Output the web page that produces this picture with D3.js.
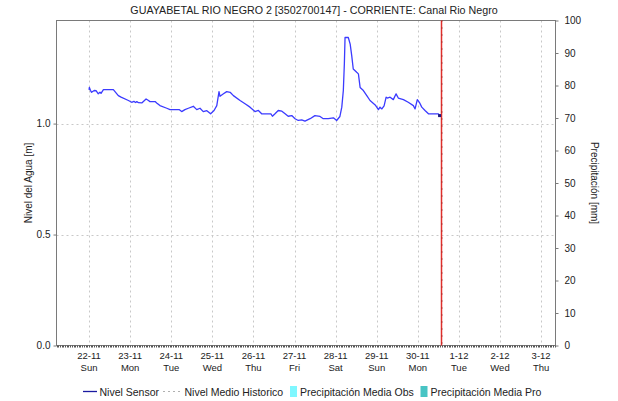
<!DOCTYPE html>
<html>
<head>
<meta charset="utf-8">
<script src="https://cdn.jsdelivr.net/npm/d3@7/dist/d3.min.js"></script>
<style>
  html, body { margin: 0; padding: 0; background: #fff; }
  svg text { font-family: "Liberation Sans", Arial, sans-serif; fill: #222; }
</style>
</head>
<body>
<svg id="chart" width="618" height="401"></svg>
<script>
// Station and series labels
const chartTitle = "GUAYABETAL RIO NEGRO 2 [3502700147] - CORRIENTE: Canal Rio Negro";
const leftAxisTitle = "Nivel del Agua [m]";
const rightAxisTitle = "Precipitación [mm]";
const legendItems = ["Nivel Sensor", "Nivel Medio Historico", "Precipitación Media Obs", "Precipitación Media Pro"];

// Reference date (22-11-2020 00:00) and the time window shown, in hours from it
const baseDate = new Date(2020, 10, 22, 0, 0);
const windowHours = [-19.0, 272.4];
const nowHours = 205.5; // current-time marker

// Water level readings: hours after baseDate, level in metres
const sensorHours = [
  0, 0.2, 0.8, 1.5, 3.0, 4.1, 5.4, 6.4, 7.0, 8.4,
  14.2, 17.1, 18.7, 23.0, 24.9, 26.2, 27.2, 27.9, 28.9, 30.8,
  33.3, 34.5, 35.6, 38.6, 39.5, 41.4, 45.4, 47.3, 52.6, 54.1,
  56.0, 58.0, 60.9, 62.9, 64.8, 66.7, 68.8, 71.0, 73.0, 74.6,
  75.9, 76.5, 78.5, 80.4, 82.4, 84.3, 88.2, 91.1, 94.0, 96.9,
  98.9, 100.8, 106.2, 107.1, 108.6, 110.5, 112.6, 114.5, 116.3, 118.4,
  120.3, 122.2, 124.2, 126.1, 129.1, 131.9, 134.9, 136.8, 139.7, 142.7,
  144.6, 146.5, 147.6, 148.5, 149.1, 149.5, 151.4, 152.5, 153.4, 154.3,
  156.3, 157.3, 158.3, 160.2, 162.2, 164.1, 167.1, 168.0, 169.0, 169.9,
  171.0, 172.3, 173.5, 174.2, 175.8, 177.7, 179.3, 180.6, 183.6, 186.4,
  189.4, 190.4, 191.7, 192.9, 194.3, 196.2, 198.2, 204.0, 204.7
];
const sensorLevel = [
  1.152, 1.163, 1.150, 1.141, 1.149, 1.148, 1.134, 1.141, 1.136, 1.153,
  1.153, 1.126, 1.119, 1.104, 1.096, 1.100, 1.095, 1.099, 1.094, 1.093,
  1.111, 1.105, 1.099, 1.099, 1.093, 1.081, 1.069, 1.063, 1.063, 1.054,
  1.063, 1.069, 1.078, 1.063, 1.069, 1.054, 1.058, 1.044, 1.059, 1.081,
  1.144, 1.123, 1.134, 1.144, 1.141, 1.126, 1.104, 1.089, 1.074, 1.054,
  1.059, 1.044, 1.044, 1.033, 1.044, 1.059, 1.056, 1.044, 1.033, 1.036,
  1.022, 1.014, 1.017, 1.011, 1.022, 1.036, 1.032, 1.022, 1.022, 1.026,
  1.014, 1.032, 1.074, 1.149, 1.270, 1.388, 1.388, 1.358, 1.306, 1.246,
  1.231, 1.224, 1.163, 1.149, 1.126, 1.104, 1.084, 1.074, 1.063, 1.074,
  1.066, 1.080, 1.119, 1.115, 1.119, 1.108, 1.134, 1.115, 1.108, 1.096,
  1.081, 1.066, 1.108, 1.096, 1.074, 1.059, 1.044, 1.044, 1.036
];

// Axis ranges and ticks
const levelMax = 1.4645;
const levelTicks = [0, 0.5, 1.0];
const precipMax = 100;
const precipTicks = [0, 10, 20, 30, 40, 50, 60, 70, 80, 90, 100];

const hoursToDate = h => new Date(baseDate.getTime() + h * 3600e3);
const sensor = sensorHours.map((h, i) => ({ t: hoursToDate(h), v: sensorLevel[i] }));

const plot = { left: 56.5, right: 555.5, top: 20.5, bottom: 345.5 };
const svg = d3.select("#chart");

const x = d3.scaleTime().domain(windowHours.map(hoursToDate)).range([plot.left, plot.right]);
const yL = d3.scaleLinear().domain([0, levelMax]).range([plot.bottom, plot.top]);
const yR = d3.scaleLinear().domain([0, precipMax]).range([plot.bottom, plot.top]);

const dayTicks = d3.timeDay.range(hoursToDate(0), hoursToDate(windowHours[1]));
const gridColor = "#c8c8c8";
const axisColor = "#7a7a7a";

// Grid
const grid = svg.append("g");
grid.selectAll("line.v").data(dayTicks).join("line")
  .attr("x1", d => Math.round(x(d)) + 0.5).attr("x2", d => Math.round(x(d)) + 0.5)
  .attr("y1", plot.top).attr("y2", plot.bottom)
  .attr("stroke", gridColor).attr("stroke-dasharray", "2,3");
grid.selectAll("line.h").data(levelTicks.filter(d => d > 0)).join("line")
  .attr("x1", plot.left).attr("x2", plot.right)
  .attr("y1", d => Math.round(yL(d)) + 0.5).attr("y2", d => Math.round(yL(d)) + 0.5)
  .attr("stroke", gridColor).attr("stroke-dasharray", "2,3");

// Frame
svg.append("rect")
  .attr("x", plot.left).attr("y", plot.top)
  .attr("width", plot.right - plot.left).attr("height", plot.bottom - plot.top)
  .attr("fill", "none").attr("stroke", axisColor);

// Hourly minor ticks along the time axis
const hourTicks = d3.timeHour.every(1).range(...windowHours.map(hoursToDate));
svg.append("g").selectAll("line").data(hourTicks).join("line")
  .attr("x1", d => Math.round(x(d)) + 0.5).attr("x2", d => Math.round(x(d)) + 0.5)
  .attr("y1", plot.bottom).attr("y2", plot.bottom + 2)
  .attr("stroke", "#555");

// Left axis
const leftAxis = svg.append("g").attr("transform", `translate(${plot.left},0)`)
  .call(d3.axisLeft(yL).tickValues(levelTicks).tickFormat(d3.format(".1f")).tickSize(3).tickPadding(3));
leftAxis.select(".domain").remove();
leftAxis.selectAll("line").attr("stroke", axisColor);
leftAxis.selectAll("text").style("font-size", "10px").attr("fill", "#222");

// Right axis
const rightAxis = svg.append("g").attr("transform", `translate(${plot.right},0)`)
  .call(d3.axisRight(yR).tickValues(precipTicks).tickSize(3).tickPadding(6));
rightAxis.select(".domain").remove();
rightAxis.selectAll("line").attr("stroke", axisColor);
rightAxis.selectAll("text").style("font-size", "10px").attr("fill", "#222");

// Day labels: date and weekday on two lines
const fmtDate = d3.timeFormat("%-d-%m");
const fmtDay = d3.timeFormat("%a");
const dayLabels = svg.append("g").selectAll("g").data(dayTicks).join("g")
  .attr("transform", d => `translate(${x(d)},0)`);
dayLabels.append("text").attr("y", 359).attr("text-anchor", "middle")
  .style("font-size", "9.5px").text(fmtDate);
dayLabels.append("text").attr("y", 371).attr("text-anchor", "middle")
  .style("font-size", "9.5px").text(fmtDay);

// Current-time marker
const nowX = Math.round(x(hoursToDate(nowHours))) + 0.5;
svg.append("line").attr("x1", nowX).attr("x2", nowX)
  .attr("y1", plot.top).attr("y2", plot.bottom)
  .attr("stroke", "#e0302c").attr("stroke-width", 1.5);
svg.append("line").attr("x1", nowX + 0.5).attr("x2", nowX + 0.5)
  .attr("y1", plot.top).attr("y2", plot.bottom)
  .attr("stroke", "#8c1c1c").attr("stroke-width", 1).attr("stroke-dasharray", "1,6");

// Sensor water level
const line = d3.line().x(d => x(d.t)).y(d => yL(d.v));
svg.append("path").datum(sensor)
  .attr("d", line).attr("fill", "none")
  .attr("stroke", "#3b3bff").attr("stroke-width", 1.3).attr("stroke-linejoin", "round");
const last = sensor[sensor.length - 1];
svg.append("rect").attr("x", x(last.t) - 1.5).attr("y", yL(last.v) - 1.5)
  .attr("width", 3).attr("height", 3).attr("fill", "#1a1a80");

// Titles
svg.append("text").attr("x", 314).attr("y", 14).attr("text-anchor", "middle")
  .style("font-size", "10.7px").text(chartTitle);
svg.append("text").attr("transform", `translate(32,${(plot.top + plot.bottom) / 2}) rotate(-90)`)
  .attr("text-anchor", "middle").style("font-size", "10px").text(leftAxisTitle);
svg.append("text").attr("transform", `translate(591,${(plot.top + plot.bottom) / 2}) rotate(90)`)
  .attr("text-anchor", "middle").style("font-size", "10px").text(rightAxisTitle);

// Legend
const ly = 391.5;
const legend = svg.append("g");
legend.append("line").attr("x1", 83).attr("x2", 97).attr("y1", ly).attr("y2", ly)
  .attr("stroke", "#1a1aa0").attr("stroke-width", 1.3);
legend.append("text").attr("x", 99.5).attr("y", ly + 4).style("font-size", "10.5px").text(legendItems[0]);
legend.append("line").attr("x1", 163).attr("x2", 181).attr("y1", ly).attr("y2", ly)
  .attr("stroke", "#b0b0b0").attr("stroke-dasharray", "2,3");
legend.append("text").attr("x", 184.5).attr("y", ly + 4).style("font-size", "10.5px").text(legendItems[1]);
legend.append("rect").attr("x", 290).attr("y", ly - 5.5).attr("width", 7).attr("height", 11).attr("fill", "#7ff7ff");
legend.append("text").attr("x", 300).attr("y", ly + 4).style("font-size", "10.5px").text(legendItems[2]);
legend.append("rect").attr("x", 420.5).attr("y", ly - 5.5).attr("width", 7).attr("height", 11).attr("fill", "#48c4c4");
legend.append("text").attr("x", 430.5).attr("y", ly + 4).style("font-size", "10.5px").text(legendItems[3]);
</script>
</body>
</html>
